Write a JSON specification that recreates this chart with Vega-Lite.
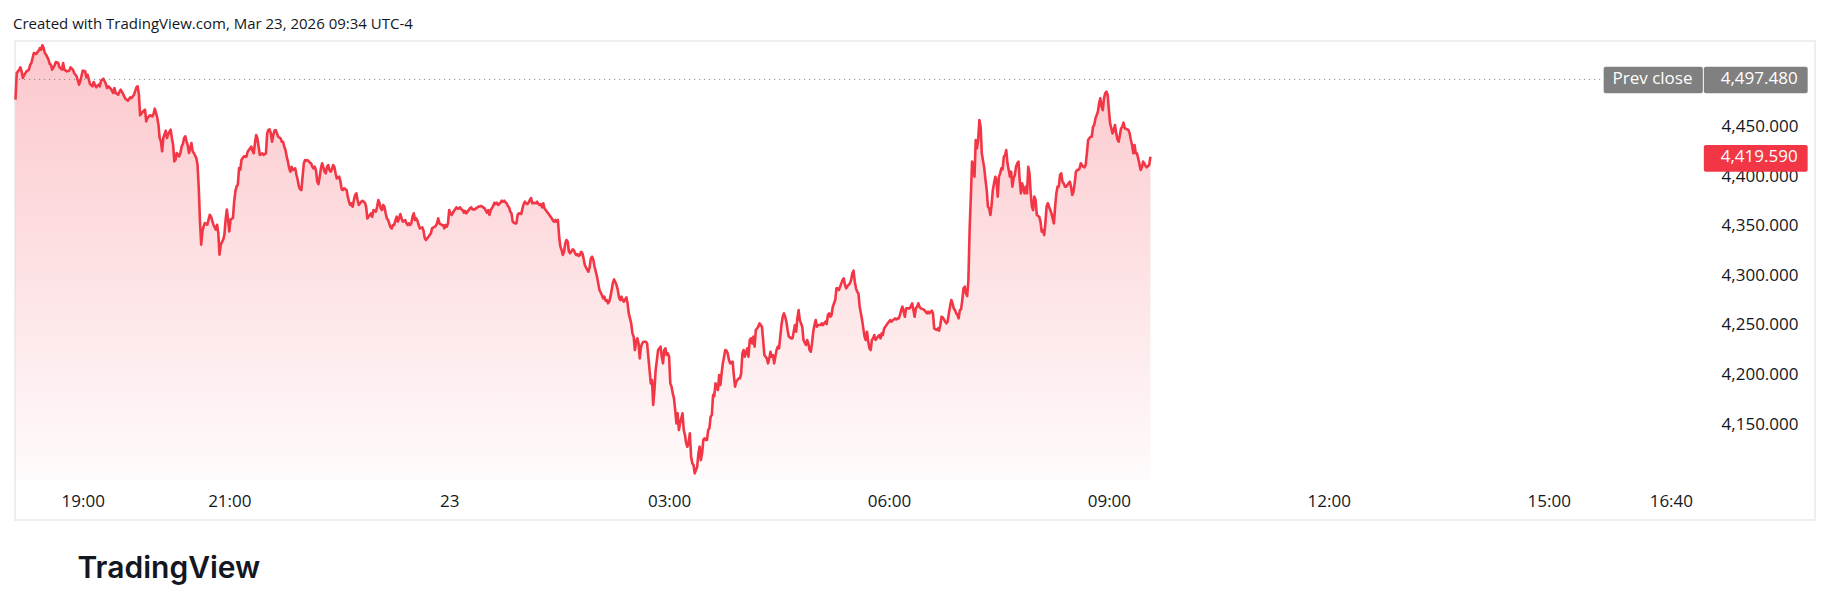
{
"$schema":"https://vega.github.io/schema/vega-lite/v6.json",
"width":1800,"height":479,
"autosize":{"type":"none"},
"padding":{"left":15,"top":41,"right":15,"bottom":91},
"background":"white",
"config":{"view":{"stroke":"#eceef2","strokeWidth":2},"font":"Open Sans"},
"title":{"text":"Created with TradingView.com, Mar 23, 2026 09:34 UTC-4","anchor":"start","frame":"group","fontSize":15,"fontWeight":"normal","font":"Open Sans","color":"#131722","baseline":"alphabetic","offset":0,"dy":3,"dx":-2},
"resolve":{"axis":{"x":"independent","y":"independent"}},
"datasets":{
"prev":[{"label":"Prev close","value":4497.48}],
"last":[{"value":4419.59}],
"prices":[
{"t":"2026-03-22T18:05","p":4477.1},{"t":"2026-03-22T18:06","p":4503.9},{"t":"2026-03-22T18:08","p":4507.3},{"t":"2026-03-22T18:09","p":4509.6},{"t":"2026-03-22T18:10","p":4505.6},{"t":"2026-03-22T18:11","p":4498.9},{"t":"2026-03-22T18:12","p":4501.6},{"t":"2026-03-22T18:14","p":4505.6},{"t":"2026-03-22T18:16","p":4507.3},{"t":"2026-03-22T18:17","p":4512.3},{"t":"2026-03-22T18:18","p":4514.0},{"t":"2026-03-22T18:19","p":4519.1},{"t":"2026-03-22T18:20","p":4524.1},{"t":"2026-03-22T18:22","p":4523.1},{"t":"2026-03-22T18:23","p":4525.1},{"t":"2026-03-22T18:24","p":4526.4},{"t":"2026-03-22T18:25","p":4529.1},{"t":"2026-03-22T18:26","p":4527.4},{"t":"2026-03-22T18:27","p":4531.8},{"t":"2026-03-22T18:28","p":4529.1},{"t":"2026-03-22T18:29","p":4524.1},{"t":"2026-03-22T18:30","p":4522.4},{"t":"2026-03-22T18:32","p":4517.4},{"t":"2026-03-22T18:33","p":4513.0},{"t":"2026-03-22T18:34","p":4512.3},{"t":"2026-03-22T18:35","p":4507.3},{"t":"2026-03-22T18:37","p":4511.6},{"t":"2026-03-22T18:38","p":4515.0},{"t":"2026-03-22T18:40","p":4514.0},{"t":"2026-03-22T18:41","p":4509.6},{"t":"2026-03-22T18:43","p":4507.3},{"t":"2026-03-22T18:44","p":4514.0},{"t":"2026-03-22T18:45","p":4507.3},{"t":"2026-03-22T18:47","p":4505.6},{"t":"2026-03-22T18:49","p":4506.3},{"t":"2026-03-22T18:50","p":4509.6},{"t":"2026-03-22T18:52","p":4507.3},{"t":"2026-03-22T18:53","p":4503.9},{"t":"2026-03-22T18:55","p":4500.6},{"t":"2026-03-22T18:57","p":4492.2},{"t":"2026-03-22T18:58","p":4495.5},{"t":"2026-03-22T19:00","p":4506.3},{"t":"2026-03-22T19:02","p":4505.6},{"t":"2026-03-22T19:03","p":4499.6},{"t":"2026-03-22T19:04","p":4502.2},{"t":"2026-03-22T19:06","p":4492.8},{"t":"2026-03-22T19:08","p":4490.5},{"t":"2026-03-22T19:09","p":4494.9},{"t":"2026-03-22T19:11","p":4489.5},{"t":"2026-03-22T19:13","p":4492.2},{"t":"2026-03-22T19:14","p":4490.5},{"t":"2026-03-22T19:15","p":4496.2},{"t":"2026-03-22T19:17","p":4498.2},{"t":"2026-03-22T19:19","p":4492.8},{"t":"2026-03-22T19:20","p":4488.8},{"t":"2026-03-22T19:21","p":4490.5},{"t":"2026-03-22T19:23","p":4488.1},{"t":"2026-03-22T19:25","p":4483.8},{"t":"2026-03-22T19:26","p":4488.8},{"t":"2026-03-22T19:27","p":4483.8},{"t":"2026-03-22T19:29","p":4482.1},{"t":"2026-03-22T19:31","p":4487.1},{"t":"2026-03-22T19:32","p":4485.4},{"t":"2026-03-22T19:34","p":4480.4},{"t":"2026-03-22T19:35","p":4478.0},{"t":"2026-03-22T19:37","p":4476.0},{"t":"2026-03-22T19:39","p":4479.4},{"t":"2026-03-22T19:40","p":4478.7},{"t":"2026-03-22T19:42","p":4482.1},{"t":"2026-03-22T19:44","p":4489.5},{"t":"2026-03-22T19:45","p":4490.5},{"t":"2026-03-22T19:46","p":4482.1},{"t":"2026-03-22T19:47","p":4461.3},{"t":"2026-03-22T19:49","p":4464.6},{"t":"2026-03-22T19:51","p":4467.0},{"t":"2026-03-22T19:52","p":4455.2},{"t":"2026-03-22T19:53","p":4458.6},{"t":"2026-03-22T19:55","p":4461.3},{"t":"2026-03-22T19:57","p":4460.2},{"t":"2026-03-22T19:58","p":4462.6},{"t":"2026-03-22T19:59","p":4468.0},{"t":"2026-03-22T20:01","p":4459.2},{"t":"2026-03-22T20:02","p":4451.8},{"t":"2026-03-22T20:03","p":4438.4},{"t":"2026-03-22T20:04","p":4435.0},{"t":"2026-03-22T20:05","p":4425.0},{"t":"2026-03-22T20:06","p":4438.4},{"t":"2026-03-22T20:08","p":4445.8},{"t":"2026-03-22T20:09","p":4438.4},{"t":"2026-03-22T20:10","p":4442.4},{"t":"2026-03-22T20:12","p":4446.8},{"t":"2026-03-22T20:13","p":4438.4},{"t":"2026-03-22T20:14","p":4431.7},{"t":"2026-03-22T20:15","p":4414.9},{"t":"2026-03-22T20:16","p":4416.6},{"t":"2026-03-22T20:17","p":4423.3},{"t":"2026-03-22T20:19","p":4419.9},{"t":"2026-03-22T20:20","p":4423.3},{"t":"2026-03-22T20:21","p":4430.0},{"t":"2026-03-22T20:22","p":4432.4},{"t":"2026-03-22T20:23","p":4438.4},{"t":"2026-03-22T20:24","p":4440.1},{"t":"2026-03-22T20:25","p":4435.0},{"t":"2026-03-22T20:26","p":4431.0},{"t":"2026-03-22T20:27","p":4423.3},{"t":"2026-03-22T20:29","p":4433.4},{"t":"2026-03-22T20:30","p":4425.0},{"t":"2026-03-22T20:31","p":4423.3},{"t":"2026-03-22T20:33","p":4418.2},{"t":"2026-03-22T20:34","p":4411.5},{"t":"2026-03-22T20:35","p":4388.0},{"t":"2026-03-22T20:36","p":4354.4},{"t":"2026-03-22T20:37","p":4330.9},{"t":"2026-03-22T20:38","p":4344.3},{"t":"2026-03-22T20:39","p":4349.4},{"t":"2026-03-22T20:40","p":4352.7},{"t":"2026-03-22T20:42","p":4351.0},{"t":"2026-03-22T20:44","p":4361.1},{"t":"2026-03-22T20:45","p":4359.4},{"t":"2026-03-22T20:47","p":4351.0},{"t":"2026-03-22T20:49","p":4346.0},{"t":"2026-03-22T20:50","p":4351.0},{"t":"2026-03-22T20:51","p":4342.6},{"t":"2026-03-22T20:52","p":4320.8},{"t":"2026-03-22T20:53","p":4330.9},{"t":"2026-03-22T20:55","p":4335.9},{"t":"2026-03-22T20:56","p":4341.0},{"t":"2026-03-22T20:57","p":4356.1},{"t":"2026-03-22T20:58","p":4366.2},{"t":"2026-03-22T20:59","p":4356.1},{"t":"2026-03-22T21:00","p":4344.3},{"t":"2026-03-22T21:01","p":4356.1},{"t":"2026-03-22T21:03","p":4357.8},{"t":"2026-03-22T21:04","p":4374.6},{"t":"2026-03-22T21:05","p":4384.6},{"t":"2026-03-22T21:06","p":4389.7},{"t":"2026-03-22T21:07","p":4391.4},{"t":"2026-03-22T21:08","p":4408.2},{"t":"2026-03-22T21:09","p":4406.5},{"t":"2026-03-22T21:10","p":4416.6},{"t":"2026-03-22T21:12","p":4419.9},
{"t":"2026-03-22T21:14","p":4419.6},{"t":"2026-03-22T21:15","p":4424.6},{"t":"2026-03-22T21:16","p":4426.3},{"t":"2026-03-22T21:18","p":4429.7},{"t":"2026-03-22T21:19","p":4425.6},{"t":"2026-03-22T21:20","p":4423.0},{"t":"2026-03-22T21:21","p":4433.0},{"t":"2026-03-22T21:22","p":4441.4},{"t":"2026-03-22T21:23","p":4438.1},{"t":"2026-03-22T21:24","p":4429.7},{"t":"2026-03-22T21:25","p":4421.3},{"t":"2026-03-22T21:27","p":4422.9},{"t":"2026-03-22T21:28","p":4421.3},{"t":"2026-03-22T21:30","p":4422.9},{"t":"2026-03-22T21:31","p":4443.1},{"t":"2026-03-22T21:32","p":4446.5},{"t":"2026-03-22T21:33","p":4447.1},{"t":"2026-03-22T21:34","p":4443.1},{"t":"2026-03-22T21:35","p":4434.7},{"t":"2026-03-22T21:36","p":4441.4},{"t":"2026-03-22T21:37","p":4445.8},{"t":"2026-03-22T21:38","p":4446.5},{"t":"2026-03-22T21:39","p":4443.1},{"t":"2026-03-22T21:40","p":4439.7},{"t":"2026-03-22T21:42","p":4438.1},{"t":"2026-03-22T21:43","p":4434.7},{"t":"2026-03-22T21:44","p":4434.7},{"t":"2026-03-22T21:45","p":4429.7},{"t":"2026-03-22T21:46","p":4426.3},{"t":"2026-03-22T21:47","p":4419.6},{"t":"2026-03-22T21:48","p":4414.6},{"t":"2026-03-22T21:49","p":4407.8},{"t":"2026-03-22T21:50","p":4404.5},{"t":"2026-03-22T21:51","p":4409.5},{"t":"2026-03-22T21:52","p":4406.2},{"t":"2026-03-22T21:54","p":4407.8},{"t":"2026-03-22T21:55","p":4401.1},{"t":"2026-03-22T21:56","p":4396.1},{"t":"2026-03-22T21:57","p":4389.4},{"t":"2026-03-22T21:58","p":4386.7},{"t":"2026-03-22T21:59","p":4386.0},{"t":"2026-03-22T22:00","p":4399.4},{"t":"2026-03-22T22:01","p":4412.9},{"t":"2026-03-22T22:02","p":4416.2},{"t":"2026-03-22T22:03","p":4415.6},{"t":"2026-03-22T22:04","p":4416.2},{"t":"2026-03-22T22:06","p":4413.5},{"t":"2026-03-22T22:07","p":4412.9},{"t":"2026-03-22T22:08","p":4409.5},{"t":"2026-03-22T22:09","p":4407.8},{"t":"2026-03-22T22:10","p":4409.5},{"t":"2026-03-22T22:11","p":4405.5},{"t":"2026-03-22T22:12","p":4394.4},{"t":"2026-03-22T22:13","p":4392.0},{"t":"2026-03-22T22:14","p":4399.4},{"t":"2026-03-22T22:15","p":4407.8},{"t":"2026-03-22T22:16","p":4412.9},{"t":"2026-03-22T22:18","p":4404.5},{"t":"2026-03-22T22:19","p":4402.8},{"t":"2026-03-22T22:20","p":4409.5},{"t":"2026-03-22T22:21","p":4411.2},{"t":"2026-03-22T22:22","p":4406.2},{"t":"2026-03-22T22:23","p":4404.5},{"t":"2026-03-22T22:24","p":4406.8},{"t":"2026-03-22T22:25","p":4411.2},{"t":"2026-03-22T22:26","p":4409.5},{"t":"2026-03-22T22:27","p":4402.8},{"t":"2026-03-22T22:28","p":4397.7},{"t":"2026-03-22T22:30","p":4399.4},{"t":"2026-03-22T22:31","p":4394.4},{"t":"2026-03-22T22:32","p":4386.7},{"t":"2026-03-22T22:33","p":4386.0},{"t":"2026-03-22T22:34","p":4387.7},{"t":"2026-03-22T22:36","p":4386.0},{"t":"2026-03-22T22:37","p":4379.3},{"t":"2026-03-22T22:38","p":4374.2},{"t":"2026-03-22T22:39","p":4370.9},{"t":"2026-03-22T22:40","p":4372.6},{"t":"2026-03-22T22:41","p":4369.2},{"t":"2026-03-22T22:42","p":4375.9},{"t":"2026-03-22T22:43","p":4381.0},{"t":"2026-03-22T22:44","p":4382.6},{"t":"2026-03-22T22:45","p":4375.9},{"t":"2026-03-22T22:46","p":4370.9},{"t":"2026-03-22T22:48","p":4374.2},{"t":"2026-03-22T22:49","p":4375.2},{"t":"2026-03-22T22:51","p":4373.2},{"t":"2026-03-22T22:52","p":4369.2},{"t":"2026-03-22T22:53","p":4357.4},{"t":"2026-03-22T22:54","p":4359.1},{"t":"2026-03-22T22:55","p":4360.8},{"t":"2026-03-22T22:56","p":4362.5},{"t":"2026-03-22T22:57","p":4359.1},{"t":"2026-03-22T22:58","p":4365.8},{"t":"2026-03-22T23:00","p":4364.2},{"t":"2026-03-22T23:01","p":4369.2},{"t":"2026-03-22T23:02","p":4375.9},{"t":"2026-03-22T23:03","p":4372.6},{"t":"2026-03-22T23:04","p":4367.5},{"t":"2026-03-22T23:05","p":4365.8},{"t":"2026-03-22T23:06","p":4370.9},{"t":"2026-03-22T23:07","p":4369.2},{"t":"2026-03-22T23:08","p":4362.5},{"t":"2026-03-22T23:09","p":4357.4},{"t":"2026-03-22T23:10","p":4355.7},{"t":"2026-03-22T23:12","p":4348.4},{"t":"2026-03-22T23:13","p":4347.3},{"t":"2026-03-22T23:14","p":4350.7},{"t":"2026-03-22T23:15","p":4350.7},{"t":"2026-03-22T23:16","p":4355.7},{"t":"2026-03-22T23:17","p":4359.1},{"t":"2026-03-22T23:18","p":4354.1},{"t":"2026-03-22T23:19","p":4357.4},{"t":"2026-03-22T23:20","p":4361.8},{"t":"2026-03-22T23:21","p":4357.4},{"t":"2026-03-22T23:22","p":4354.1},{"t":"2026-03-22T23:24","p":4355.7},{"t":"2026-03-22T23:25","p":4352.4},{"t":"2026-03-22T23:26","p":4350.7},{"t":"2026-03-22T23:27","p":4352.4},{"t":"2026-03-22T23:28","p":4350.7},{"t":"2026-03-22T23:29","p":4352.4},{"t":"2026-03-22T23:30","p":4359.1},{"t":"2026-03-22T23:31","p":4362.5},{"t":"2026-03-22T23:32","p":4355.7},{"t":"2026-03-22T23:33","p":4357.4},{"t":"2026-03-22T23:34","p":4355.1},{"t":"2026-03-22T23:35","p":4350.7},{"t":"2026-03-22T23:36","p":4347.3},{"t":"2026-03-22T23:38","p":4348.4},{"t":"2026-03-22T23:39","p":4345.0},{"t":"2026-03-22T23:40","p":4337.3},{"t":"2026-03-22T23:41","p":4335.6},{"t":"2026-03-22T23:42","p":4337.3},{"t":"2026-03-22T23:43","p":4338.9},{"t":"2026-03-22T23:44","p":4340.6},{"t":"2026-03-22T23:45","p":4342.3},{"t":"2026-03-22T23:46","p":4347.3},{"t":"2026-03-22T23:48","p":4349.0},{"t":"2026-03-22T23:49","p":4349.7},{"t":"2026-03-22T23:50","p":4352.4},{"t":"2026-03-22T23:51","p":4357.4},{"t":"2026-03-22T23:52","p":4352.4},{"t":"2026-03-22T23:54","p":4350.7},{"t":"2026-03-22T23:55","p":4350.7},{"t":"2026-03-22T23:56","p":4347.3},{"t":"2026-03-22T23:57","p":4350.7},{"t":"2026-03-22T23:58","p":4349.0},{"t":"2026-03-22T23:59","p":4352.4},
{"t":"2026-03-23T00:00","p":4365.8},{"t":"2026-03-23T00:01","p":4362.5},{"t":"2026-03-23T00:02","p":4360.8},{"t":"2026-03-23T00:03","p":4363.1},{"t":"2026-03-23T00:04","p":4365.1},{"t":"2026-03-23T00:06","p":4368.5},{"t":"2026-03-23T00:07","p":4367.2},{"t":"2026-03-23T00:08","p":4367.5},{"t":"2026-03-23T00:09","p":4368.5},{"t":"2026-03-23T00:10","p":4366.5},{"t":"2026-03-23T00:11","p":4365.8},{"t":"2026-03-23T00:12","p":4363.1},{"t":"2026-03-23T00:13","p":4365.1},{"t":"2026-03-23T00:14","p":4362.5},{"t":"2026-03-23T00:15","p":4364.2},{"t":"2026-03-23T00:17","p":4367.5},{"t":"2026-03-23T00:18","p":4368.5},{"t":"2026-03-23T00:19","p":4366.5},{"t":"2026-03-23T00:20","p":4366.5},{"t":"2026-03-23T00:21","p":4366.5},{"t":"2026-03-23T00:22","p":4367.5},{"t":"2026-03-23T00:24","p":4369.2},{"t":"2026-03-23T00:26","p":4369.9},{"t":"2026-03-23T00:27","p":4369.2},{"t":"2026-03-23T00:29","p":4367.5},{"t":"2026-03-23T00:30","p":4365.2},{"t":"2026-03-23T00:31","p":4363.1},{"t":"2026-03-23T00:32","p":4365.8},{"t":"2026-03-23T00:33","p":4360.8},{"t":"2026-03-23T00:34","p":4365.8},{"t":"2026-03-23T00:36","p":4369.9},{"t":"2026-03-23T00:37","p":4373.2},{"t":"2026-03-23T00:38","p":4371.9},{"t":"2026-03-23T00:39","p":4373.2},{"t":"2026-03-23T00:40","p":4370.9},{"t":"2026-03-23T00:41","p":4371.9},{"t":"2026-03-23T00:42","p":4373.2},{"t":"2026-03-23T00:43","p":4375.2},{"t":"2026-03-23T00:44","p":4374.2},{"t":"2026-03-23T00:45","p":4375.2},{"t":"2026-03-23T00:47","p":4372.6},{"t":"2026-03-23T00:48","p":4369.9},{"t":"2026-03-23T00:49","p":4368.5},{"t":"2026-03-23T00:50","p":4364.2},{"t":"2026-03-23T00:51","p":4362.5},{"t":"2026-03-23T00:52","p":4354.1},{"t":"2026-03-23T00:53","p":4353.1},{"t":"2026-03-23T00:54","p":4352.4},{"t":"2026-03-23T00:55","p":4352.4},{"t":"2026-03-23T00:56","p":4360.8},{"t":"2026-03-23T00:57","p":4362.5},{"t":"2026-03-23T00:59","p":4361.8},{"t":"2026-03-23T01:00","p":4367.5},{"t":"2026-03-23T01:01","p":4371.9},{"t":"2026-03-23T01:02","p":4374.2},{"t":"2026-03-23T01:03","p":4372.6},{"t":"2026-03-23T01:04","p":4371.9},{"t":"2026-03-23T01:05","p":4373.2},{"t":"2026-03-23T01:06","p":4375.9},{"t":"2026-03-23T01:07","p":4377.9},{"t":"2026-03-23T01:08","p":4372.6},{"t":"2026-03-23T01:09","p":4373.2},{"t":"2026-03-23T01:11","p":4372.6},{"t":"2026-03-23T01:12","p":4374.2},{"t":"2026-03-23T01:13","p":4371.9},{"t":"2026-03-23T01:14","p":4370.9},{"t":"2026-03-23T01:15","p":4371.9},{"t":"2026-03-23T01:16","p":4368.5},{"t":"2026-03-23T01:17","p":4372.6},{"t":"2026-03-23T01:18","p":4367.5},{"t":"2026-03-23T01:19","p":4365.8},{"t":"2026-03-23T01:20","p":4364.2},{"t":"2026-03-23T01:21","p":4362.5},{"t":"2026-03-23T01:23","p":4359.1},{"t":"2026-03-23T01:24","p":4357.4},{"t":"2026-03-23T01:25","p":4355.1},{"t":"2026-03-23T01:26","p":4354.1},{"t":"2026-03-23T01:27","p":4355.8},{"t":"2026-03-23T01:28","p":4354.1},{"t":"2026-03-23T01:29","p":4355.8},{"t":"2026-03-23T01:30","p":4338.9},{"t":"2026-03-23T01:31","p":4328.9},{"t":"2026-03-23T01:32","p":4325.5},{"t":"2026-03-23T01:33","p":4320.5},{"t":"2026-03-23T01:34","p":4323.8},{"t":"2026-03-23T01:35","p":4332.2},{"t":"2026-03-23T01:36","p":4335.6},{"t":"2026-03-23T01:37","p":4333.9},{"t":"2026-03-23T01:38","p":4323.8},{"t":"2026-03-23T01:39","p":4322.2},{"t":"2026-03-23T01:41","p":4326.2},{"t":"2026-03-23T01:42","p":4325.5},{"t":"2026-03-23T01:43","p":4322.2},{"t":"2026-03-23T01:44","p":4320.5},{"t":"2026-03-23T01:45","p":4321.5},{"t":"2026-03-23T01:46","p":4319.5},{"t":"2026-03-23T01:47","p":4320.5},{"t":"2026-03-23T01:48","p":4323.8},{"t":"2026-03-23T01:49","p":4322.2},{"t":"2026-03-23T01:50","p":4317.1},{"t":"2026-03-23T01:51","p":4310.4},{"t":"2026-03-23T01:53","p":4305.4},{"t":"2026-03-23T01:54","p":4303.7},{"t":"2026-03-23T01:55","p":4308.7},{"t":"2026-03-23T01:56","p":4317.1},{"t":"2026-03-23T01:57","p":4318.8},{"t":"2026-03-23T01:58","p":4315.4},{"t":"2026-03-23T01:59","p":4308.7},{"t":"2026-03-23T02:00","p":4303.7},{"t":"2026-03-23T02:01","p":4298.6},{"t":"2026-03-23T02:02","p":4291.9},{"t":"2026-03-23T02:03","p":4285.2},{"t":"2026-03-23T02:05","p":4280.2},{"t":"2026-03-23T02:06","p":4276.8},{"t":"2026-03-23T02:07","p":4278.5},{"t":"2026-03-23T02:08","p":4274.5},{"t":"2026-03-23T02:09","p":4275.1},{"t":"2026-03-23T02:10","p":4271.8},{"t":"2026-03-23T02:11","p":4273.4},{"t":"2026-03-23T02:12","p":4278.5},{"t":"2026-03-23T02:13","p":4285.2},{"t":"2026-03-23T02:14","p":4292.6},{"t":"2026-03-23T02:15","p":4295.9},{"t":"2026-03-23T02:17","p":4290.2},{"t":"2026-03-23T02:18","p":4285.2},{"t":"2026-03-23T02:19","p":4277.8},{"t":"2026-03-23T02:20","p":4275.1},{"t":"2026-03-23T02:21","p":4278.5},{"t":"2026-03-23T02:22","p":4275.1},{"t":"2026-03-23T02:23","p":4273.4},{"t":"2026-03-23T02:24","p":4275.8},{"t":"2026-03-23T02:25","p":4277.8},{"t":"2026-03-23T02:26","p":4271.8},{"t":"2026-03-23T02:27","p":4261.7},{"t":"2026-03-23T02:29","p":4251.6},{"t":"2026-03-23T02:30","p":4241.5},{"t":"2026-03-23T02:31","p":4238.2},{"t":"2026-03-23T02:32","p":4224.7},{"t":"2026-03-23T02:33","p":4233.1},{"t":"2026-03-23T02:34","p":4236.5},{"t":"2026-03-23T02:35","p":4231.4},{"t":"2026-03-23T02:36","p":4216.3},{"t":"2026-03-23T02:37","p":4228.1},{"t":"2026-03-23T02:38","p":4231.4},{"t":"2026-03-23T02:39","p":4233.1},{"t":"2026-03-23T02:41","p":4233.1},{"t":"2026-03-23T02:42","p":4231.4},{"t":"2026-03-23T02:43","p":4218.0},{"t":"2026-03-23T02:44","p":4204.6},{"t":"2026-03-23T02:45","p":4191.1},{"t":"2026-03-23T02:46","p":4194.5},{"t":"2026-03-23T02:47","p":4169.3},{"t":"2026-03-23T02:48","p":4184.4},{"t":"2026-03-23T02:49","p":4204.6},{"t":"2026-03-23T02:50","p":4214.6},{"t":"2026-03-23T02:51","p":4224.7},{"t":"2026-03-23T02:53","p":4228.1},{"t":"2026-03-23T02:54","p":4218.0},{"t":"2026-03-23T02:55","p":4211.3},{"t":"2026-03-23T02:56","p":4224.7},{"t":"2026-03-23T02:57","p":4226.4},{"t":"2026-03-23T02:58","p":4219.7},{"t":"2026-03-23T02:59","p":4221.4},{"t":"2026-03-23T03:00","p":4218.0},{"t":"2026-03-23T03:01","p":4191.1},{"t":"2026-03-23T03:02","p":4187.8},{"t":"2026-03-23T03:03","p":4181.0},{"t":"2026-03-23T03:04","p":4176.0},{"t":"2026-03-23T03:05","p":4164.2},{"t":"2026-03-23T03:06","p":4150.8},{"t":"2026-03-23T03:07","p":4160.9},{"t":"2026-03-23T03:08","p":4144.1},{"t":"2026-03-23T03:09","p":4150.8},{"t":"2026-03-23T03:11","p":4160.9},{"t":"2026-03-23T03:12","p":4144.1},{"t":"2026-03-23T03:13","p":4139.0},{"t":"2026-03-23T03:14","p":4130.6},{"t":"2026-03-23T03:15","p":4127.3},{"t":"2026-03-23T03:16","p":4132.3},{"t":"2026-03-23T03:17","p":4140.7},{"t":"2026-03-23T03:18","p":4117.2},{"t":"2026-03-23T03:19","p":4110.5},{"t":"2026-03-23T03:20","p":4108.8},{"t":"2026-03-23T03:21","p":4100.4},{"t":"2026-03-23T03:23","p":4107.1},{"t":"2026-03-23T03:24","p":4120.6},{"t":"2026-03-23T03:25","p":4127.3},{"t":"2026-03-23T03:26","p":4113.8},{"t":"2026-03-23T03:27","p":4120.6},{"t":"2026-03-23T03:28","p":4134.0},{"t":"2026-03-23T03:29","p":4135.7},
{"t":"2026-03-23T03:30","p":4134.0},{"t":"2026-03-23T03:31","p":4134.0},{"t":"2026-03-23T03:32","p":4144.1},{"t":"2026-03-23T03:33","p":4145.8},{"t":"2026-03-23T03:34","p":4157.5},{"t":"2026-03-23T03:35","p":4159.2},{"t":"2026-03-23T03:36","p":4179.3},{"t":"2026-03-23T03:37","p":4178.3},{"t":"2026-03-23T03:38","p":4191.1},{"t":"2026-03-23T03:40","p":4184.4},{"t":"2026-03-23T03:41","p":4199.5},{"t":"2026-03-23T03:42","p":4189.4},{"t":"2026-03-23T03:43","p":4201.2},{"t":"2026-03-23T03:44","p":4211.3},{"t":"2026-03-23T03:45","p":4218.0},{"t":"2026-03-23T03:46","p":4224.7},{"t":"2026-03-23T03:47","p":4224.0},{"t":"2026-03-23T03:48","p":4221.3},{"t":"2026-03-23T03:49","p":4214.6},{"t":"2026-03-23T03:50","p":4211.3},{"t":"2026-03-23T03:52","p":4213.0},{"t":"2026-03-23T03:53","p":4199.5},{"t":"2026-03-23T03:54","p":4187.8},{"t":"2026-03-23T03:55","p":4192.8},{"t":"2026-03-23T03:56","p":4194.5},{"t":"2026-03-23T03:57","p":4196.2},{"t":"2026-03-23T03:58","p":4196.2},{"t":"2026-03-23T03:59","p":4201.2},{"t":"2026-03-23T04:00","p":4221.3},{"t":"2026-03-23T04:01","p":4224.7},{"t":"2026-03-23T04:02","p":4218.0},{"t":"2026-03-23T04:04","p":4226.4},{"t":"2026-03-23T04:05","p":4218.0},{"t":"2026-03-23T04:06","p":4234.8},{"t":"2026-03-23T04:07","p":4236.5},{"t":"2026-03-23T04:08","p":4231.4},{"t":"2026-03-23T04:09","p":4238.2},{"t":"2026-03-23T04:10","p":4228.1},{"t":"2026-03-23T04:11","p":4244.9},{"t":"2026-03-23T04:12","p":4246.5},{"t":"2026-03-23T04:13","p":4248.2},{"t":"2026-03-23T04:14","p":4251.6},{"t":"2026-03-23T04:16","p":4248.2},{"t":"2026-03-23T04:17","p":4234.8},{"t":"2026-03-23T04:18","p":4219.7},{"t":"2026-03-23T04:19","p":4218.0},{"t":"2026-03-23T04:20","p":4216.3},{"t":"2026-03-23T04:21","p":4211.3},{"t":"2026-03-23T04:22","p":4216.3},{"t":"2026-03-23T04:23","p":4223.0},{"t":"2026-03-23T04:24","p":4218.0},{"t":"2026-03-23T04:25","p":4219.7},{"t":"2026-03-23T04:26","p":4211.3},{"t":"2026-03-23T04:28","p":4224.7},{"t":"2026-03-23T04:29","p":4228.1},{"t":"2026-03-23T04:30","p":4226.4},{"t":"2026-03-23T04:31","p":4238.2},{"t":"2026-03-23T04:32","p":4249.9},{"t":"2026-03-23T04:33","p":4258.3},{"t":"2026-03-23T04:34","p":4261.7},{"t":"2026-03-23T04:35","p":4258.3},{"t":"2026-03-23T04:36","p":4253.3},{"t":"2026-03-23T04:37","p":4244.9},{"t":"2026-03-23T04:38","p":4238.2},{"t":"2026-03-23T04:40","p":4236.5},{"t":"2026-03-23T04:41","p":4236.5},{"t":"2026-03-23T04:42","p":4243.2},{"t":"2026-03-23T04:43","p":4249.9},{"t":"2026-03-23T04:44","p":4243.2},{"t":"2026-03-23T04:45","p":4256.6},{"t":"2026-03-23T04:46","p":4265.0},{"t":"2026-03-23T04:47","p":4254.9},{"t":"2026-03-23T04:48","p":4251.6},{"t":"2026-03-23T04:49","p":4248.2},{"t":"2026-03-23T04:50","p":4234.8},{"t":"2026-03-23T04:52","p":4229.8},{"t":"2026-03-23T04:53","p":4234.8},{"t":"2026-03-23T04:54","p":4231.4},{"t":"2026-03-23T04:55","p":4224.7},{"t":"2026-03-23T04:56","p":4223.0},{"t":"2026-03-23T04:57","p":4231.4},{"t":"2026-03-23T04:58","p":4243.2},{"t":"2026-03-23T04:59","p":4249.9},{"t":"2026-03-23T05:00","p":4254.9},{"t":"2026-03-23T05:01","p":4248.2},{"t":"2026-03-23T05:02","p":4249.9},{"t":"2026-03-23T05:04","p":4249.9},{"t":"2026-03-23T05:05","p":4251.6},{"t":"2026-03-23T05:06","p":4249.9},{"t":"2026-03-23T05:07","p":4251.6},{"t":"2026-03-23T05:08","p":4253.3},{"t":"2026-03-23T05:09","p":4250.9},{"t":"2026-03-23T05:10","p":4260.0},{"t":"2026-03-23T05:11","p":4261.7},{"t":"2026-03-23T05:12","p":4258.3},{"t":"2026-03-23T05:13","p":4260.0},{"t":"2026-03-23T05:14","p":4268.4},{"t":"2026-03-23T05:16","p":4275.1},{"t":"2026-03-23T05:17","p":4286.9},{"t":"2026-03-23T05:18","p":4286.9},{"t":"2026-03-23T05:19","p":4285.2},{"t":"2026-03-23T05:20","p":4288.6},{"t":"2026-03-23T05:21","p":4291.9},{"t":"2026-03-23T05:22","p":4295.3},{"t":"2026-03-23T05:23","p":4296.9},{"t":"2026-03-23T05:24","p":4290.2},{"t":"2026-03-23T05:25","p":4286.9},{"t":"2026-03-23T05:26","p":4289.2},{"t":"2026-03-23T05:28","p":4291.9},{"t":"2026-03-23T05:29","p":4295.3},{"t":"2026-03-23T05:30","p":4302.0},{"t":"2026-03-23T05:31","p":4304.7},{"t":"2026-03-23T05:32","p":4293.6},{"t":"2026-03-23T05:33","p":4286.9},{"t":"2026-03-23T05:34","p":4283.5},{"t":"2026-03-23T05:35","p":4281.8},{"t":"2026-03-23T05:36","p":4268.4},{"t":"2026-03-23T05:37","p":4261.7},{"t":"2026-03-23T05:38","p":4254.9},{"t":"2026-03-23T05:40","p":4238.2},{"t":"2026-03-23T05:41","p":4234.8},{"t":"2026-03-23T05:42","p":4243.2},{"t":"2026-03-23T05:43","p":4233.1},{"t":"2026-03-23T05:44","p":4226.4},{"t":"2026-03-23T05:45","p":4224.7},{"t":"2026-03-23T05:46","p":4234.8},{"t":"2026-03-23T05:47","p":4236.5},{"t":"2026-03-23T05:48","p":4239.8},{"t":"2026-03-23T05:49","p":4234.8},{"t":"2026-03-23T05:50","p":4236.5},{"t":"2026-03-23T05:52","p":4239.8},{"t":"2026-03-23T05:53","p":4236.5},{"t":"2026-03-23T05:54","p":4241.5},{"t":"2026-03-23T05:55","p":4239.8},{"t":"2026-03-23T05:56","p":4246.5},{"t":"2026-03-23T05:57","p":4248.2},{"t":"2026-03-23T05:58","p":4249.9},{"t":"2026-03-23T05:59","p":4251.6},{"t":"2026-03-23T06:00","p":4253.3},{"t":"2026-03-23T06:01","p":4254.9},{"t":"2026-03-23T06:02","p":4253.3},{"t":"2026-03-23T06:04","p":4255.6},{"t":"2026-03-23T06:05","p":4256.6},{"t":"2026-03-23T06:06","p":4255.6},{"t":"2026-03-23T06:07","p":4256.6},{"t":"2026-03-23T06:08","p":4256.6},{"t":"2026-03-23T06:09","p":4260.0},{"t":"2026-03-23T06:10","p":4265.0},{"t":"2026-03-23T06:11","p":4268.4},{"t":"2026-03-23T06:12","p":4263.4},{"t":"2026-03-23T06:13","p":4258.3},{"t":"2026-03-23T06:14","p":4266.7},{"t":"2026-03-23T06:16","p":4266.7},{"t":"2026-03-23T06:17","p":4266.7},{"t":"2026-03-23T06:18","p":4269.1},{"t":"2026-03-23T06:19","p":4271.8},{"t":"2026-03-23T06:20","p":4265.0},{"t":"2026-03-23T06:21","p":4258.3},{"t":"2026-03-23T06:22","p":4266.7},{"t":"2026-03-23T06:23","p":4268.4},{"t":"2026-03-23T06:24","p":4271.8},{"t":"2026-03-23T06:25","p":4268.4},{"t":"2026-03-23T06:26","p":4266.7},{"t":"2026-03-23T06:28","p":4265.7},{"t":"2026-03-23T06:29","p":4265.0},{"t":"2026-03-23T06:30","p":4263.4},{"t":"2026-03-23T06:31","p":4261.7},{"t":"2026-03-23T06:32","p":4263.4},{"t":"2026-03-23T06:33","p":4261.7},
{"t":"2026-03-23T06:35","p":4264.4},{"t":"2026-03-23T06:36","p":4261.7},{"t":"2026-03-23T06:37","p":4246.5},{"t":"2026-03-23T06:39","p":4244.9},{"t":"2026-03-23T06:40","p":4246.5},{"t":"2026-03-23T06:41","p":4244.2},{"t":"2026-03-23T06:42","p":4249.9},{"t":"2026-03-23T06:43","p":4258.3},{"t":"2026-03-23T06:44","p":4257.6},{"t":"2026-03-23T06:45","p":4255.6},{"t":"2026-03-23T06:46","p":4253.3},{"t":"2026-03-23T06:47","p":4251.6},{"t":"2026-03-23T06:48","p":4253.3},{"t":"2026-03-23T06:49","p":4261.7},{"t":"2026-03-23T06:51","p":4275.1},{"t":"2026-03-23T06:52","p":4271.8},{"t":"2026-03-23T06:53","p":4266.7},{"t":"2026-03-23T06:54","p":4265.0},{"t":"2026-03-23T06:55","p":4261.7},{"t":"2026-03-23T06:56","p":4260.0},{"t":"2026-03-23T06:57","p":4256.6},{"t":"2026-03-23T06:58","p":4265.0},{"t":"2026-03-23T06:59","p":4265.7},{"t":"2026-03-23T07:00","p":4275.1},{"t":"2026-03-23T07:01","p":4286.9},{"t":"2026-03-23T07:02","p":4288.6},{"t":"2026-03-23T07:03","p":4281.8},{"t":"2026-03-23T07:04","p":4279.1},{"t":"2026-03-23T07:05","p":4295.3},{"t":"2026-03-23T07:06","p":4345.7},{"t":"2026-03-23T07:07","p":4379.3},{"t":"2026-03-23T07:08","p":4414.6},{"t":"2026-03-23T07:09","p":4409.5},{"t":"2026-03-23T07:10","p":4399.4},{"t":"2026-03-23T07:11","p":4436.4},{"t":"2026-03-23T07:12","p":4428.0},{"t":"2026-03-23T07:13","p":4436.4},{"t":"2026-03-23T07:14","p":4456.6},{"t":"2026-03-23T07:15","p":4449.8},{"t":"2026-03-23T07:16","p":4422.9},{"t":"2026-03-23T07:18","p":4407.8},{"t":"2026-03-23T07:19","p":4396.1},{"t":"2026-03-23T07:20","p":4386.0},{"t":"2026-03-23T07:21","p":4369.2},{"t":"2026-03-23T07:22","p":4367.5},{"t":"2026-03-23T07:23","p":4360.8},{"t":"2026-03-23T07:24","p":4370.9},{"t":"2026-03-23T07:25","p":4386.0},{"t":"2026-03-23T07:27","p":4399.4},{"t":"2026-03-23T07:28","p":4396.1},{"t":"2026-03-23T07:29","p":4379.3},{"t":"2026-03-23T07:30","p":4399.4},{"t":"2026-03-23T07:31","p":4402.8},{"t":"2026-03-23T07:32","p":4407.8},{"t":"2026-03-23T07:33","p":4406.8},{"t":"2026-03-23T07:34","p":4419.6},{"t":"2026-03-23T07:35","p":4421.3},{"t":"2026-03-23T07:36","p":4426.3},{"t":"2026-03-23T07:37","p":4412.9},{"t":"2026-03-23T07:39","p":4399.4},{"t":"2026-03-23T07:40","p":4404.5},{"t":"2026-03-23T07:41","p":4389.4},{"t":"2026-03-23T07:42","p":4397.7},{"t":"2026-03-23T07:43","p":4401.1},{"t":"2026-03-23T07:44","p":4409.5},{"t":"2026-03-23T07:45","p":4412.9},{"t":"2026-03-23T07:46","p":4414.6},{"t":"2026-03-23T07:47","p":4396.1},{"t":"2026-03-23T07:48","p":4382.6},{"t":"2026-03-23T07:49","p":4392.7},{"t":"2026-03-23T07:51","p":4382.6},{"t":"2026-03-23T07:52","p":4389.4},{"t":"2026-03-23T07:53","p":4382.6},{"t":"2026-03-23T07:54","p":4409.5},{"t":"2026-03-23T07:55","p":4402.8},{"t":"2026-03-23T07:56","p":4382.6},{"t":"2026-03-23T07:57","p":4369.2},{"t":"2026-03-23T07:58","p":4365.8},{"t":"2026-03-23T07:59","p":4379.3},{"t":"2026-03-23T08:00","p":4375.9},{"t":"2026-03-23T08:01","p":4360.8},{"t":"2026-03-23T08:03","p":4359.1},{"t":"2026-03-23T08:04","p":4354.1},{"t":"2026-03-23T08:05","p":4344.0},{"t":"2026-03-23T08:06","p":4345.7},{"t":"2026-03-23T08:07","p":4340.6},{"t":"2026-03-23T08:08","p":4352.4},{"t":"2026-03-23T08:09","p":4369.2},{"t":"2026-03-23T08:10","p":4372.6},{"t":"2026-03-23T08:11","p":4369.2},{"t":"2026-03-23T08:12","p":4365.8},{"t":"2026-03-23T08:13","p":4362.5},{"t":"2026-03-23T08:15","p":4352.4},{"t":"2026-03-23T08:16","p":4369.2},{"t":"2026-03-23T08:17","p":4382.6},{"t":"2026-03-23T08:18","p":4389.4},{"t":"2026-03-23T08:19","p":4389.4},{"t":"2026-03-23T08:20","p":4401.1},{"t":"2026-03-23T08:21","p":4402.8},{"t":"2026-03-23T08:22","p":4394.4},{"t":"2026-03-23T08:23","p":4392.7},{"t":"2026-03-23T08:24","p":4389.4},{"t":"2026-03-23T08:25","p":4389.4},{"t":"2026-03-23T08:27","p":4392.7},{"t":"2026-03-23T08:28","p":4394.4},{"t":"2026-03-23T08:29","p":4389.4},{"t":"2026-03-23T08:30","p":4381.0},{"t":"2026-03-23T08:31","p":4384.3},{"t":"2026-03-23T08:32","p":4392.7},{"t":"2026-03-23T08:33","p":4404.5},{"t":"2026-03-23T08:34","p":4406.2},{"t":"2026-03-23T08:35","p":4406.2},{"t":"2026-03-23T08:36","p":4407.8},{"t":"2026-03-23T08:37","p":4412.9},{"t":"2026-03-23T08:39","p":4409.5},{"t":"2026-03-23T08:40","p":4408.8},{"t":"2026-03-23T08:41","p":4411.2},{"t":"2026-03-23T08:42","p":4422.9},{"t":"2026-03-23T08:43","p":4436.4},{"t":"2026-03-23T08:44","p":4438.1},{"t":"2026-03-23T08:45","p":4439.7},{"t":"2026-03-23T08:46","p":4439.7},{"t":"2026-03-23T08:47","p":4449.8},{"t":"2026-03-23T08:48","p":4451.5},{"t":"2026-03-23T08:49","p":4458.2},{"t":"2026-03-23T08:51","p":4464.9},{"t":"2026-03-23T08:52","p":4473.3},{"t":"2026-03-23T08:53","p":4478.4},{"t":"2026-03-23T08:54","p":4470.0},{"t":"2026-03-23T08:55","p":4466.6},{"t":"2026-03-23T08:56","p":4478.4},{"t":"2026-03-23T08:57","p":4483.4},{"t":"2026-03-23T08:58","p":4485.1},{"t":"2026-03-23T08:59","p":4481.8},{"t":"2026-03-23T09:00","p":4466.6},{"t":"2026-03-23T09:01","p":4453.2},{"t":"2026-03-23T09:03","p":4443.1},{"t":"2026-03-23T09:04","p":4446.5},{"t":"2026-03-23T09:05","p":4451.5},{"t":"2026-03-23T09:06","p":4443.1},{"t":"2026-03-23T09:07","p":4437.0},{"t":"2026-03-23T09:08","p":4434.7},{"t":"2026-03-23T09:09","p":4441.4},{"t":"2026-03-23T09:10","p":4448.2},{"t":"2026-03-23T09:11","p":4449.8},{"t":"2026-03-23T09:12","p":4453.9},{"t":"2026-03-23T09:13","p":4448.2},{"t":"2026-03-23T09:15","p":4447.1},{"t":"2026-03-23T09:16","p":4446.5},{"t":"2026-03-23T09:17","p":4443.1},{"t":"2026-03-23T09:18","p":4436.4},{"t":"2026-03-23T09:19","p":4431.4},{"t":"2026-03-23T09:20","p":4423.0},{"t":"2026-03-23T09:21","p":4431.4},{"t":"2026-03-23T09:22","p":4423.0},{"t":"2026-03-23T09:23","p":4423.0},{"t":"2026-03-23T09:24","p":4417.9},{"t":"2026-03-23T09:26","p":4406.2},{"t":"2026-03-23T09:27","p":4408.8},{"t":"2026-03-23T09:28","p":4414.6},{"t":"2026-03-23T09:29","p":4412.9},{"t":"2026-03-23T09:30","p":4410.2},{"t":"2026-03-23T09:31","p":4408.8},{"t":"2026-03-23T09:32","p":4410.2},{"t":"2026-03-23T09:33","p":4411.2},{"t":"2026-03-23T09:34","p":4419.59}
]},
"layer":[
{"data":{"name":"prices"},
 "mark":{"type":"area","color":{"x1":1,"y1":1,"x2":1,"y2":0,"gradient":"linear","stops":[{"offset":0,"color":"rgba(242,54,69,0.02)"},{"offset":1,"color":"rgba(242,54,69,0.28)"}]}},
 "encoding":{
  "x":{"field":"t","type":"temporal",
   "scale":{"domain":[{"year":2026,"month":3,"date":22,"hours":18,"minutes":4,"seconds":35},{"year":2026,"month":3,"date":23,"hours":18,"minutes":38}]},
   "axis":{"orient":"bottom","offset":-19,"values":[{"year":2026,"month":3,"date":22,"hours":19},{"year":2026,"month":3,"date":22,"hours":21},{"year":2026,"month":3,"date":23,"hours":0},{"year":2026,"month":3,"date":23,"hours":3},{"year":2026,"month":3,"date":23,"hours":6},{"year":2026,"month":3,"date":23,"hours":9},{"year":2026,"month":3,"date":23,"hours":12},{"year":2026,"month":3,"date":23,"hours":15},{"year":2026,"month":3,"date":23,"hours":16,"minutes":40}],
    "labelExpr":"hours(datum.value) === 0 && minutes(datum.value) === 0 ? '23' : timeFormat(datum.value, '%H:%M')",
    "labelBaseline":"middle","labelPadding":0,"ticks":false,"tickSize":0,"domain":false,"grid":false,"labelFlush":false,"labelOverlap":false,
    "labelFont":"Open Sans","labelFontSize":17,"labelColor":"#131722",
    "title":"TradingView","titleFont":"Inter","titleFontSize":30,"titleFontWeight":600,"titleColor":"#131722","titleAlign":"left","titleBaseline":"alphabetic","titleX":62,"titleY":76}},
  "y":{"field":"p","type":"quantitative","scale":{"domain":[4053.4,4536.2],"nice":false,"zero":false},
   "axis":{"orient":"right","offset":-17,"values":[4150,4200,4250,4300,4350,4400,4450],"format":",.3f","labelAlign":"right","labelBaseline":"middle","labelPadding":0,"ticks":false,"tickSize":0,"domain":false,"grid":false,"title":null,"labelFont":"Open Sans","labelFontSize":17,"labelColor":"#131722","labelFlush":false,"labelOverlap":false}},
  "y2":{"datum":4094}}},
{"data":{"name":"prices"},
 "mark":{"type":"line","color":"#f23645","strokeWidth":2.6,"strokeJoin":"round"},
 "encoding":{"x":{"field":"t","type":"temporal","axis":null},"y":{"field":"p","type":"quantitative","axis":null}}},
{"data":{"name":"prev"},
 "mark":{"type":"rule","color":"#787b86","strokeDash":[1,4],"strokeWidth":1},
 "encoding":{"x":{"datum":{"year":2026,"month":3,"date":22,"hours":18,"minutes":8},"type":"temporal","axis":null},"x2":{"datum":{"year":2026,"month":3,"date":23,"hours":15,"minutes":45}},"y":{"field":"value","type":"quantitative","axis":null}}},
{"data":{"name":"prev"},
 "mark":{"type":"rect","color":"#808080","cornerRadius":2},
 "encoding":{"x":{"datum":{"year":2026,"month":3,"date":23,"hours":15,"minutes":45},"type":"temporal","axis":null},"x2":{"datum":{"year":2026,"month":3,"date":23,"hours":17,"minutes":6,"seconds":12}},"y":{"datum":4510.3,"type":"quantitative","axis":null},"y2":{"datum":4483.5}}},
{"data":{"name":"prev"},
 "mark":{"type":"rect","color":"#808080","cornerRadius":2},
 "encoding":{"x":{"datum":{"year":2026,"month":3,"date":23,"hours":17,"minutes":7},"type":"temporal","axis":null},"x2":{"datum":{"year":2026,"month":3,"date":23,"hours":18,"minutes":32}},"y":{"datum":4510.3,"type":"quantitative","axis":null},"y2":{"datum":4483.5}}},
{"data":{"name":"prev"},
 "mark":{"type":"text","color":"white","font":"Open Sans","fontSize":17,"align":"center","baseline":"middle"},
 "encoding":{"x":{"datum":{"year":2026,"month":3,"date":23,"hours":16,"minutes":25},"type":"temporal","axis":null},"y":{"field":"value","type":"quantitative","axis":null},"text":{"field":"label"}}},
{"data":{"name":"prev"},
 "mark":{"type":"text","color":"white","font":"Open Sans","fontSize":17,"align":"right","baseline":"middle"},
 "encoding":{"x":{"datum":{"year":2026,"month":3,"date":23,"hours":18,"minutes":23,"seconds":48},"type":"temporal","axis":null},"y":{"field":"value","type":"quantitative","axis":null},"text":{"field":"value","format":",.3f"}}},
{"data":{"name":"last"},
 "mark":{"type":"rect","color":"#f23645","cornerRadius":2},
 "encoding":{"x":{"datum":{"year":2026,"month":3,"date":23,"hours":17,"minutes":7},"type":"temporal","axis":null},"x2":{"datum":{"year":2026,"month":3,"date":23,"hours":18,"minutes":32}},"y":{"datum":4431.4,"type":"quantitative","axis":null},"y2":{"datum":4404.4}}},
{"data":{"name":"last"},
 "mark":{"type":"text","color":"white","font":"Open Sans","fontSize":17,"align":"right","baseline":"middle"},
 "encoding":{"x":{"datum":{"year":2026,"month":3,"date":23,"hours":18,"minutes":23,"seconds":48},"type":"temporal","axis":null},"y":{"field":"value","type":"quantitative","axis":null},"text":{"field":"value","format":",.3f"}}}
]
}
